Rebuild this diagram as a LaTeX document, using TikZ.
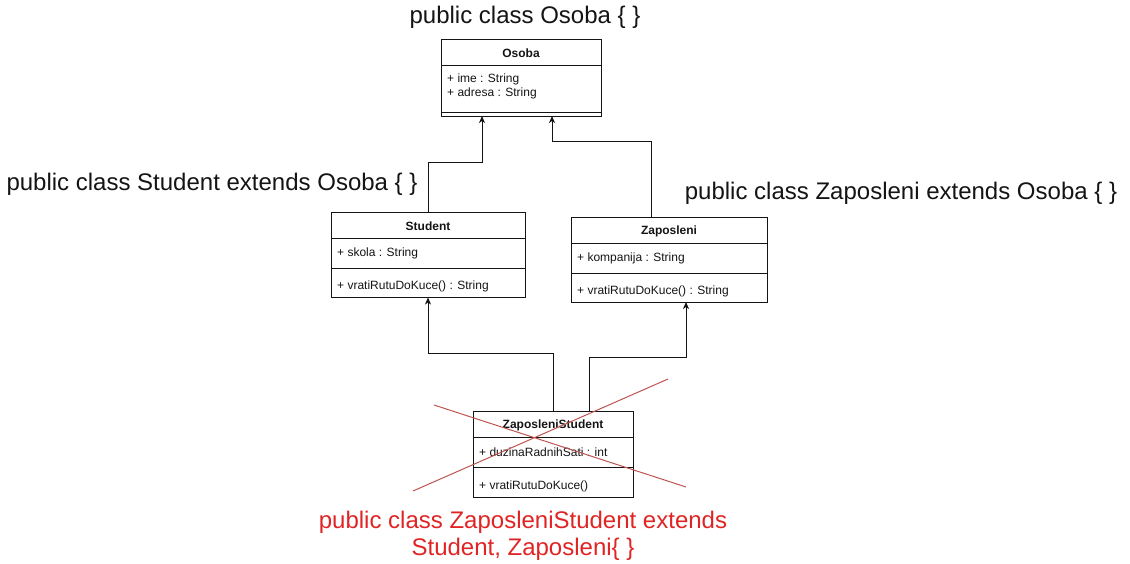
\documentclass[tikz,border=0pt]{standalone}
\usepackage{fontspec}
\setmainfont{Liberation Sans}
\usetikzlibrary{arrows.meta,calc}
\definecolor{ink}{RGB}{20,20,20}
\definecolor{crossred}{RGB}{190,84,80}
\definecolor{txtred}{RGB}{224,36,36}
\tikzset{
  umlbox/.style={draw=ink,line width=1pt,inner sep=0pt,anchor=center},
  sepline/.style={draw=ink,line width=1pt},
  title/.style={font=\fontsize{12}{14}\selectfont\bfseries,text=ink,inner sep=0pt,anchor=center,yshift=-1pt},
  member/.style={font=\fontsize{12}{14}\selectfont,text=ink,inner sep=0pt,anchor=west,yshift=-1pt},
  caption/.style={font=\fontsize{24}{27}\selectfont,text=ink,inner sep=0pt,anchor=center},
  redcaption/.style={font=\fontsize{24}{27}\selectfont,text=txtred,inner sep=0pt,align=center,anchor=center},
  inherit/.style={draw=ink,line width=1pt,-{Stealth[length=7pt,width=6pt,inset=2pt]}},
  crossline/.style={draw=crossred,line width=1pt},
}
\begin{document}
\begin{tikzpicture}[x=1pt,y=-1pt]
\useasboundingbox (0,0) rectangle (1130,563);
% Osoba
\node[umlbox,minimum width=160pt,minimum height=77pt] (osoba) at (521,77.5) {};
\draw[sepline] (441,65) -- (601,65);
\draw[sepline] (441,112) -- (601,112);
\node[title] (osobaT) at (521,52) {Osoba};
\node[member] (osobaA1) at (447,78) {+ ime : String};
\node[member] (osobaA2) at (447,92) {+ adresa : String};
% Student
\node[umlbox,minimum width=194pt,minimum height=85pt] (student) at (428,254.5) {};
\draw[sepline] (331,238) -- (525,238);
\draw[sepline] (331,268) -- (525,268);
\node[title] (studentT) at (428,225) {Student};
\node[member] (studentA) at (337,252) {+ skola : String};
\node[member] (studentM) at (337,285) {+ vratiRutuDoKuce() : String};
% Zaposleni
\node[umlbox,minimum width=196pt,minimum height=85pt] (zaposleni) at (669,259.5) {};
\draw[sepline] (571,243) -- (767,243);
\draw[sepline] (571,273) -- (767,273);
\node[title] (zaposleniT) at (669,230) {Zaposleni};
\node[member] (zaposleniA) at (577,257) {+ kompanija : String};
\node[member] (zaposleniM) at (577,290) {+ vratiRutuDoKuce() : String};
% ZaposleniStudent
\node[umlbox,minimum width=160pt,minimum height=86pt] (zs) at (553,454) {};
\draw[sepline] (473,437) -- (633,437);
\draw[sepline] (473,467) -- (633,467);
\node[title] (zsT) at (553,424) {ZaposleniStudent};
\node[member] (zsA) at (479,451) {+ duzinaRadnihSati : int};
\node[member] (zsM) at (479,485) {+ vratiRutuDoKuce()};
% connector end points
\coordinate (osobaL) at (482,116);
\coordinate (osobaR) at (552,116);
\coordinate (zapTop) at (651,217);
\coordinate (zapBot) at (686,302);
\coordinate (zsR) at (589,411);
% connectors
\draw[inherit] (student.north) -- ++(0,-49) -| (osobaL);
\draw[inherit] (zapTop) -- ++(0,-76) -| (osobaR);
\draw[inherit] (zs.north) -- ++(0,-57) -| (student.south);
\draw[inherit] (zsR) -- ++(0,-54) -| (zapBot);
% cross
\coordinate (x1a) at (434,405);
\coordinate (x1b) at (686,487);
\coordinate (x2a) at (413,491);
\coordinate (x2b) at (668,379);
\draw[crossline] (x1a) -- (x1b);
\draw[crossline] (x2a) -- (x2b);
% captions
\node[caption] (capO) at (525,17) {public class Osoba \{ \}};
\node[caption] (capS) at (212,184) {public class Student extends Osoba \{ \}};
\node[caption] (capZ) at (901,193) {public class Zaposleni extends Osoba \{ \}};
\node[redcaption] (capZS) at (523,535.5) {public class ZaposleniStudent extends\\Student, Zaposleni\{ \}};
\end{tikzpicture}
\end{document}
